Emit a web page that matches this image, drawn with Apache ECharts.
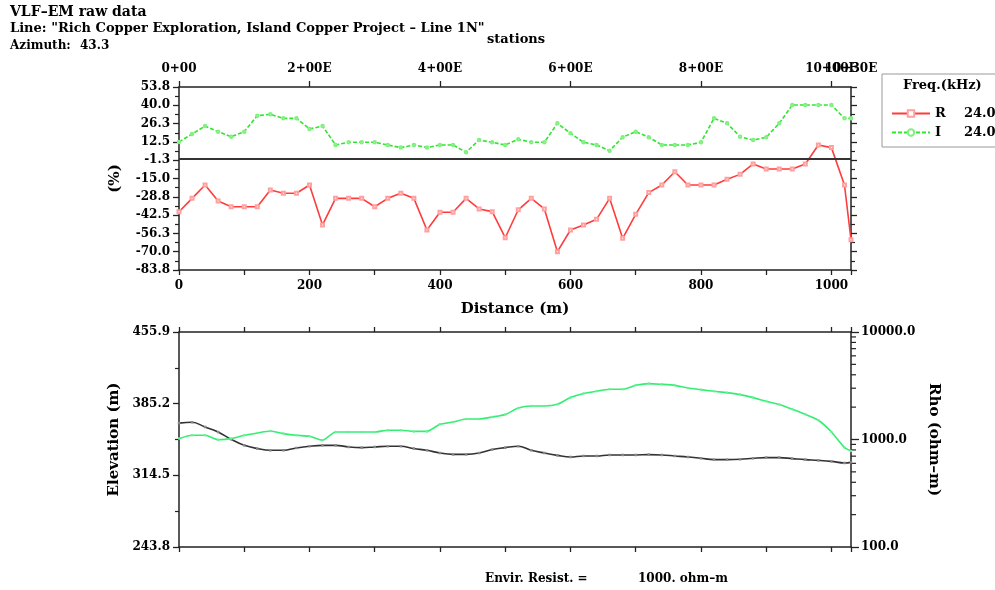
<!DOCTYPE html>
<html><head><meta charset="utf-8">
<script src="https://cdn.jsdelivr.net/npm/echarts@6/dist/echarts.min.js"></script>
<style>html,body{margin:0;padding:0;background:#fff}#c{width:995px;height:590px}</style>
</head><body><div id="c"></div><script>
const stations = [0,20,40,60,80,100,120,140,160,180,200,220,240,260,280,300,320,340,360,380,400,420,440,460,480,500,520,540,560,580,600,620,640,660,680,700,720,740,760,780,800,820,840,860,880,900,920,940,960,980,1000,1020,1030];
const vlfR = [-40.0,-29.9,-19.9,-31.9,-36.2,-36.2,-36.2,-23.6,-26.1,-26.1,
 -19.9,-49.9,-29.9,-29.9,-29.9,-36.2,-29.9,-26.1,-29.9,-53.7,
 -40.4,-40.4,-29.9,-37.9,-39.9,-59.5,-38.5,-29.9,-37.9,-70.0,
 -53.7,-49.9,-45.7,-29.9,-59.9,-41.9,-25.6,-19.9,-9.9,-19.9,
 -19.9,-19.9,-15.6,-11.9,-4.1,-7.9,-7.9,-7.9,-4.1,10.2,
 8.2,-19.9,-61.0];
const vlfI = [12.5,18.4,24.4,20.2,16.4,20.2,32.2,33.2,30.2,30.2,
 22.2,24.4,10.2,12.2,12.2,12.2,10.2,8.2,10.2,8.2,
 10.2,10.2,4.7,13.9,12.2,10.2,14.5,12.2,12.2,26.5,
 19.0,12.2,10.2,5.9,16.0,20.2,16.0,10.2,10.2,10.2,
 12.2,30.2,26.5,16.4,13.9,16.0,26.5,40.2,40.2,40.2,
 40.2,30.2,30.2];
const elevation = [366.0,366.8,362.2,357.2,350.0,344.1,340.9,339.2,339.2,341.5,
 343.2,344.1,344.1,342.5,341.8,342.5,343.2,343.2,340.9,339.2,
 336.5,335.2,335.2,336.5,339.9,341.8,343.2,339.2,336.5,334.2,
 332.6,333.6,333.6,334.6,334.6,334.6,334.9,334.6,333.6,332.6,
 331.3,330.0,330.0,330.3,331.3,332.0,332.0,331.0,330.0,329.3,
 328.3,326.7,327.3];
const rho = [1019,1094,1094,995,1019,1094,1148,1199,1135,1094,
 1072,984,1175,1175,1175,1175,1219,1219,1190,1190,
 1384,1455,1553,1553,1620,1706,1963,2051,2051,2125,
 2453,2675,2808,2930,2930,3190,3311,3260,3190,3013,
 2909,2808,2729,2616,2453,2265,2113,1911,1715,1510,
 1175,842,782];
const stationTickValues = [0,200,400,600,800,1000,1030];
const stationTickLabels = ['0+00','2+00E','4+00E','6+00E','8+00E','10+00E','10+30E'];
const distanceTickLabels = ['0','200','400','600','800','1000'];
const pctTickLabels = ['-83.8','-70.0','-56.3','-42.5','-28.8','-15.0','-1.3','12.5','26.3','40.0','53.8'];
const elevTickLabels = ['243.8','314.5','385.2','455.9'];
const rhoTickLabels = ['100.0','1000.0','10000.0'];
const rhoMinorTicks = [200,300,400,500,600,700,800,900,2000,3000,4000,5000,6000,7000,8000,9000];
const freqNames = ['R','I'];
const freqValues = ['24.0','24.0'];

const F = '"DejaVu Serif", serif';
const AX = '#222';
const chart = echarts.init(document.getElementById('c'), null, {renderer:'canvas'});
const lbl = {fontFamily:F, fontWeight:'bold', fontSize:12, color:'#000'};
const nameStyle = {fontFamily:F, fontWeight:'bold', fontSize:15, color:'#000'};
const line = {show:true, onZero:false, lineStyle:{color:AX, width:1.5}};
const tick = (len)=>({show:true, inside:false, length:len, lineStyle:{color:AX, width:1.3}});
const stationLabel = v=>{const i=stationTickValues.indexOf(v);return i>=0?stationTickLabels[i]:'';};

function xAx(grid, pos, opts){
  return Object.assign({type:'value', gridIndex:grid, position:pos, min:0, max:1030,
    axisLine:line, splitLine:{show:false}, axisLabel:{show:false}}, opts);
}

const option = {
  animation:false,
  backgroundColor:'#fff',
  grid:[
    {left:179, top:87, width:672, height:183},
    {left:179, top:332, width:672, height:215}
  ],
  xAxis:[
    xAx(0,'bottom',{interval:100, axisTick:tick(5),
      axisLabel:Object.assign({show:true, margin:10, formatter:v=> (v%200===0 && v<=1000) ? distanceTickLabels[v/200] : ''}, lbl),
      name:'Distance (m)', nameLocation:'middle', nameGap:32, nameTextStyle:nameStyle}),
    xAx(0,'top',{interval:200, axisTick:tick(6),
      axisLabel:Object.assign({show:true, margin:12, showMaxLabel:false, showMinLabel:true, formatter:stationLabel}, lbl)}),
    xAx(0,'top',{interval:1030, axisLine:{show:false}, axisTick:{show:false},
      axisLabel:Object.assign({show:true, margin:12, showMaxLabel:true, showMinLabel:false, formatter:v=> v>0 ? stationLabel(v) : ''}, lbl)}),
    xAx(1,'bottom',{interval:100, axisTick:tick(5)}),
    xAx(1,'top',{interval:100, axisTick:tick(5)})
  ],
  yAxis:[
    {type:'value', gridIndex:0, position:'left', min:-83.75, max:53.75, interval:13.75,
      axisLine:line, axisTick:tick(6), minorTick:{show:true, splitNumber:2, length:4, lineStyle:{color:AX, width:1.2}},
      splitLine:{show:false},
      axisLabel:Object.assign({margin:9, formatter:(v,i)=>pctTickLabels[i]}, lbl),
      name:'(%)', nameLocation:'middle', nameRotate:90, nameGap:56, nameTextStyle:nameStyle},
    {type:'value', gridIndex:0, position:'right', min:-83.75, max:53.75, interval:13.75,
      axisLine:line, axisTick:tick(6), minorTick:{show:true, splitNumber:2, length:4, lineStyle:{color:AX, width:1.2}},
      splitLine:{show:false}, axisLabel:{show:false}},
    {type:'value', gridIndex:1, position:'left', min:243.8, max:455.9, interval:70.7,
      axisLine:line, axisTick:tick(6), minorTick:{show:true, splitNumber:2, length:4, lineStyle:{color:AX, width:1.2}},
      splitLine:{show:false},
      axisLabel:Object.assign({margin:9, formatter:(v,i)=>elevTickLabels[i]}, lbl),
      name:'Elevation (m)', nameLocation:'middle', nameRotate:90, nameGap:56, nameTextStyle:nameStyle},
    {type:'log', gridIndex:1, position:'right', min:100, max:10000, logBase:10,
      axisLine:line, axisTick:tick(8), splitLine:{show:false},
      axisLabel:Object.assign({margin:10, formatter:(v,i)=>rhoTickLabels[i]}, lbl),
      name:'Rho (ohm\u2013m)', nameLocation:'middle', nameRotate:-90, nameGap:66, nameTextStyle:nameStyle}
  ],
  legend:{
    orient:'vertical', left:882, top:74, padding:[33,80,8,9],
    borderColor:'#999', borderWidth:1, backgroundColor:'#fff',
    itemWidth:38, itemHeight:8, itemGap:6,
    data:freqNames,
    formatter:n=>`{n|${n}}{v|${freqValues[freqNames.indexOf(n)]}}`,
    textStyle:{fontFamily:F, fontWeight:'bold', fontSize:13, color:'#000',
      rich:{n:{width:29, fontFamily:F, fontWeight:'bold', fontSize:13}, v:{fontFamily:F, fontWeight:'bold', fontSize:13}}}
  },
  graphic:[
    {type:'text', left:10, top:5, style:{text:'VLF\u2013EM raw data', font:'bold 14px '+F, fill:'#000'}},
    {type:'text', left:10, top:22, style:{text:'Line: "Rich Copper Exploration, Island Copper Project \u2013 Line 1N"', font:'bold 13px '+F, fill:'#000'}},
    {type:'text', left:487, top:33, style:{text:'stations', font:'bold 13px '+F, fill:'#000'}},
    {type:'text', left:10, top:40, style:{text:'Azimuth:', font:'bold 12px '+F, fill:'#000'}},
    {type:'text', left:80, top:40, style:{text:'43.3', font:'bold 12px '+F, fill:'#000'}},
    {type:'text', left:903, top:79, z:100, style:{text:'Freq.(kHz)', font:'bold 13px '+F, fill:'#000'}},
    {type:'text', left:485, top:573, style:{text:'Envir. Resist. =', font:'bold 12px '+F, fill:'#000'}},
    {type:'text', left:638, top:573, style:{text:'1000. ohm\u2013m', font:'bold 12px '+F, fill:'#000'}}
  ],
  series:[
    {name:'R', type:'line', xAxisIndex:0, yAxisIndex:0,
      data:stations.map((d,i)=>[d, vlfR[i]]),
      symbol:'emptyRect', symbolSize:3, showSymbol:true,
      lineStyle:{color:'#ff3b3b', width:1.6}, itemStyle:{color:'#ffa0a0', borderWidth:0.8}},
    {name:'I', type:'line', xAxisIndex:0, yAxisIndex:0,
      data:stations.map((d,i)=>[d, vlfI[i]]),
      symbol:'emptyCircle', symbolSize:2.5, showSymbol:true,
      lineStyle:{color:'#2ee62e', width:1.6, type:[4,2]}, itemStyle:{color:'#80f080', borderWidth:0.8}},
    {name:'zero', type:'line', xAxisIndex:0, yAxisIndex:0, data:[], silent:true,
      markLine:{silent:true, symbol:'none', label:{show:false}, lineStyle:{color:'#333', width:2, type:'solid'}, data:[{yAxis:0}]}},
    {name:'Elevation', type:'line', xAxisIndex:3, yAxisIndex:2,
      data:stations.map((d,i)=>[d, elevation[i]]), smooth:0.4,
      symbol:'rect', symbolSize:2.5, showSymbol:true,
      lineStyle:{color:'#333', width:1.6}, itemStyle:{color:'#888'}},
    {name:'Rho', type:'line', xAxisIndex:3, yAxisIndex:3,
      data:stations.map((d,i)=>[d, rho[i]]), smooth:0.2,
      symbol:'circle', symbolSize:2.5, showSymbol:true,
      lineStyle:{color:'#34ee74', width:1.6}, itemStyle:{color:'#6af096'}},
    {name:'rhoMinor', type:'custom', xAxisIndex:3, yAxisIndex:3, silent:true, clip:false,
      data:rhoMinorTicks.map(v=>[1030, v]),
      renderItem:(params, api)=>{
        const p = api.coord([api.value(0), api.value(1)]);
        return {type:'line', shape:{x1:p[0], y1:p[1], x2:p[0]+5, y2:p[1]}, style:{stroke:AX, lineWidth:1.2}};
      }}
  ]
};
chart.setOption(option);
</script></body></html>
